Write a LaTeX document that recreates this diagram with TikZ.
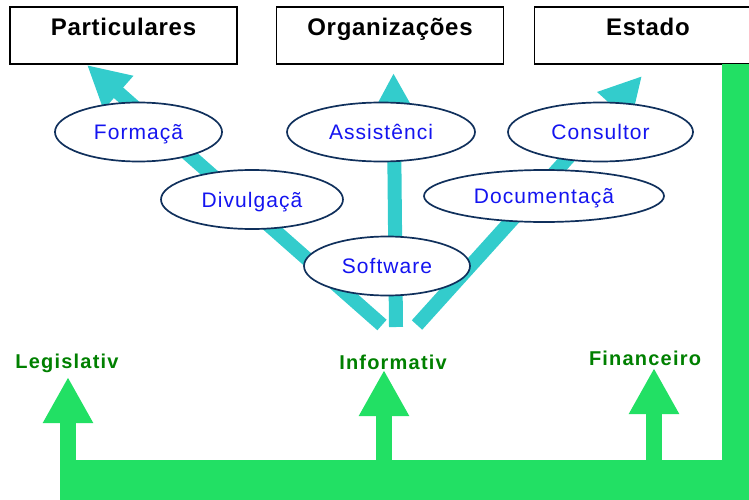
\documentclass[tikz,border=0pt]{standalone}
\usepackage{fontspec}
\setmainfont{Liberation Sans}
\newfontfamily\boxfont[LetterSpace=3]{Liberation Sans}
\newfontfamily\areafont[LetterSpace=5]{Liberation Sans}
\newfontfamily\kindfont[LetterSpace=6]{Liberation Sans}
\usetikzlibrary{arrows.meta,shapes.geometric}
\definecolor{flowcyan}{RGB}{51,204,204}
\definecolor{trunkgreen}{RGB}{34,224,100}
\definecolor{kindgreen}{RGB}{0,128,0}
\definecolor{rimnavy}{RGB}{16,48,92}
\definecolor{areablue}{RGB}{20,20,240}
\tikzset{
  party/.style={draw=black, line width=1.3pt, inner sep=0pt, minimum width=227pt,
    text height=29pt, text depth=28pt, font=\boxfont\bfseries\fontsize{24}{28}\selectfont},
  area/.style={shape=ellipse, draw=rimnavy, line width=1.7pt, fill=white, inner sep=0pt,
    text=areablue, text height=15pt, text depth=0pt, font=\areafont\fontsize{21}{24}\selectfont},
  kind/.style={anchor=base, text=kindgreen, font=\kindfont\bfseries\fontsize{20}{24}\selectfont},
  flow/.style={draw=flowcyan, line width=14pt, -{Triangle[width=42pt,length=42pt]}},
  feed/.style={draw=trunkgreen, line width=16pt, -{Triangle[width=47pt,length=46pt]}}
}
\begin{document}
\begin{tikzpicture}[x=1pt,y=-1pt]
        \useasboundingbox (0,0) rectangle (749,500);

        % ends of the cyan flows
        \coordinate (fromL) at (382,325);
        \coordinate (fromM) at (396,327);
        \coordinate (fromR) at (417,325);
        \coordinate (toP) at (87,65);
        \coordinate (toO) at (393.5,73);
        \coordinate (toE) at (642,76);

        \path (fromL) edge [flow] node {} (toP);
        \path (fromM) edge [flow] node {} (toO);
        \path (fromR) edge [flow] node {} (toE);

        % services
        \node[area, minimum width=167pt, minimum height=59pt] (F) at (138.5,132) {Formaçã};
        \node[area, minimum width=188pt, minimum height=59pt] (A) at (381,132) {Assistênci};
        \node[area, minimum width=185pt, minimum height=59pt] (C) at (600.5,132) {Consultor};
        \node[area, minimum width=182pt, minimum height=59pt] (V) at (252,199.5) {Divulgaçã};
        \node[area, minimum width=240pt, minimum height=52pt] (D) at (544,196) {Documentaçã};
        \node[area, minimum width=166pt, minimum height=59pt] (S) at (387,266) {Software};

        % receivers
        \node[party] (P) at (123.5,35.5) {Particulares};
        \node[party] (O) at (390,35.5) {Organizações};
        \node[party] (E) at (648,35.5) {Estado};

        % kinds of support
        \node[kind] (Leg) at (67,368) {Legislativ};
        \node[kind] (Inf) at (393,369) {Informativ};
        \node[kind] (Fin) at (645,365) {Financeiro};

        % green trunk from Estado
        \fill[trunkgreen] (722,64) rectangle (760,470);
        \fill[trunkgreen] (60,460) rectangle (760,510);

        \coordinate (baseL) at (68,470);
        \coordinate (baseI) at (384,470);
        \coordinate (baseF) at (654,470);
        \coordinate (tipL) at (68,377);
        \coordinate (tipI) at (384,370);
        \coordinate (tipF) at (654,368);

        \path (baseL) edge [feed] node {} (tipL);
        \path (baseI) edge [feed] node {} (tipI);
        \path (baseF) edge [feed] node {} (tipF);
\end{tikzpicture}
\end{document}
